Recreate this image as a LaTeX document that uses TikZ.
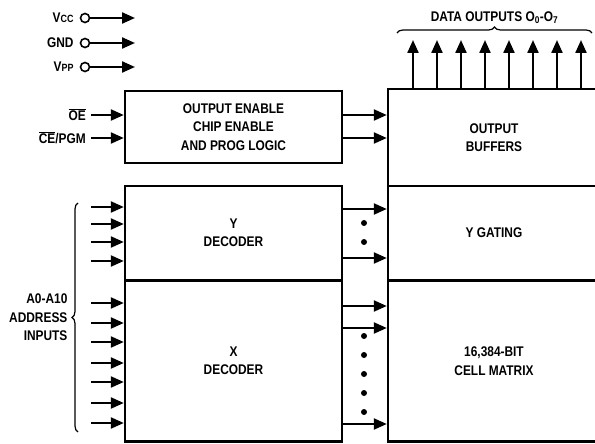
\documentclass[tikz,border=0pt]{standalone}
\usepackage{fontspec}
\setmainfont{Liberation Sans}[FakeStretch=0.85]
\usepackage{tikz}
\usetikzlibrary{arrows.meta, positioning, decorations.pathreplacing}
\newcommand{\ovl}[1]{$\overline{\hbox{#1}}$}
\tikzset{
    block/.style={
        rectangle, draw, line width=2.4pt,
        inner sep=0pt, align=center,
        font=\bfseries\fontsize{14}{18.5}\selectfont
    },
    txt/.style={
        inner sep=0pt, align=right,
        font=\bfseries\fontsize{14}{18.5}\selectfont
    },
    sig/.style={
        line width=2.2pt,
        -{Triangle[length=13pt, width=11pt]},
    },
    pinc/.style={circle, draw, line width=1.6pt, inner sep=0pt, minimum size=9pt},
    bigdot/.style={circle, fill, inner sep=0pt, minimum size=6pt},
    brc/.style={decorate, decoration={brace, amplitude=6pt}, line width=1.2pt},
}

\begin{document}
\begin{tikzpicture}[x=1pt, y=-1pt]
        \useasboundingbox (0,0) rectangle (595,444);

        % supply pins
        \node[pinc] (vcc) at (85,18) {};
        \node[pinc] (gnd) at (85,43) {};
        \node[pinc] (vpp) at (85,67) {};
        \node[txt, left=6pt of vcc] (vcclbl) {V{\fontsize{10.5}{10}\selectfont CC}};
        \node[txt, left=6pt of gnd] (gndlbl) {GND};
        \node[txt, left=6pt of vpp] (vpplbl) {V{\fontsize{10.5}{10}\selectfont PP}};
        \coordinate (vccend) at (135,18);
        \coordinate (gndend) at (135,43);
        \coordinate (vppend) at (135,67);
        \draw[sig] (vcc) -- (vccend);
        \draw[sig] (gnd) -- (gndend);
        \draw[sig] (vpp) -- (vppend);

        % blocks
        \node[block, minimum width=217pt, minimum height=72pt] (logic) at (233.5,127)
            {OUTPUT ENABLE\\CHIP ENABLE\\AND PROG LOGIC};
        \node[block, minimum width=217pt, minimum height=94pt] (ydec) at (233.5,233)
            {Y\\DECODER};
        \node[block, minimum width=217pt, minimum height=161pt] (xdec) at (233.5,361)
            {X\\DECODER};
        \node[block, minimum width=212pt, minimum height=97pt] (outbuf) at (494,137.5)
            {OUTPUT\\BUFFERS};
        \node[block, minimum width=212pt, minimum height=94pt] (ygate) at (494,233)
            {Y GATING};
        \node[block, minimum width=212pt, minimum height=161pt] (matrix) at (494,361)
            {16,384-BIT\\CELL MATRIX};

        % control inputs
        \node[txt, anchor=east] (oelbl) at (86,115) {\ovl{OE}};
        \node[txt, anchor=east] (celbl) at (86,138) {\ovl{CE}/PGM};
        \draw[sig] ([xshift=5pt]oelbl.east) -- (logic.west |- oelbl.east);
        \draw[sig] ([xshift=5pt]celbl.east) -- (logic.west |- celbl.east);

        % logic to buffers
        \draw[sig] (logic.east |- 0,115) -- (outbuf.west |- 0,115);
        \draw[sig] (logic.east |- 0,138) -- (outbuf.west |- 0,138);

        % data outputs
        \foreach \i in {0,...,7}
            \draw[sig] (outbuf.north -| 413+\i*24,0) -- (413+\i*24,40);
        \draw[brc] (397,33) -- (592,33)
            node[midway, above=9pt, txt] (dlbl) {DATA OUTPUTS O\textsubscript{0}-O\textsubscript{7}};

        % address inputs
        \foreach \y in {207,224,242,261}
            \draw[sig] (91,\y) -- (ydec.west |- 0,\y);
        \foreach \y in {303,323,342,363,382,403,423}
            \draw[sig] (91,\y) -- (xdec.west |- 0,\y);
        \draw[brc] (78,432) -- (78,203)
            node[midway, left=10pt, txt] (albl) {A0-A10\\ADDRESS\\INPUTS};

        % decoder outputs
        \foreach \y in {209,258}
            \draw[sig] (ydec.east |- 0,\y) -- (ygate.west |- 0,\y);
        \foreach \y in {306,328,424}
            \draw[sig] (xdec.east |- 0,\y) -- (matrix.west |- 0,\y);
        \foreach \y in {223,242}
            \node[bigdot] at (364,\y) {};
        \foreach \y in {336,355,374,393,412}
            \node[bigdot] at (364,\y) {};
    \end{tikzpicture}
\end{document}
